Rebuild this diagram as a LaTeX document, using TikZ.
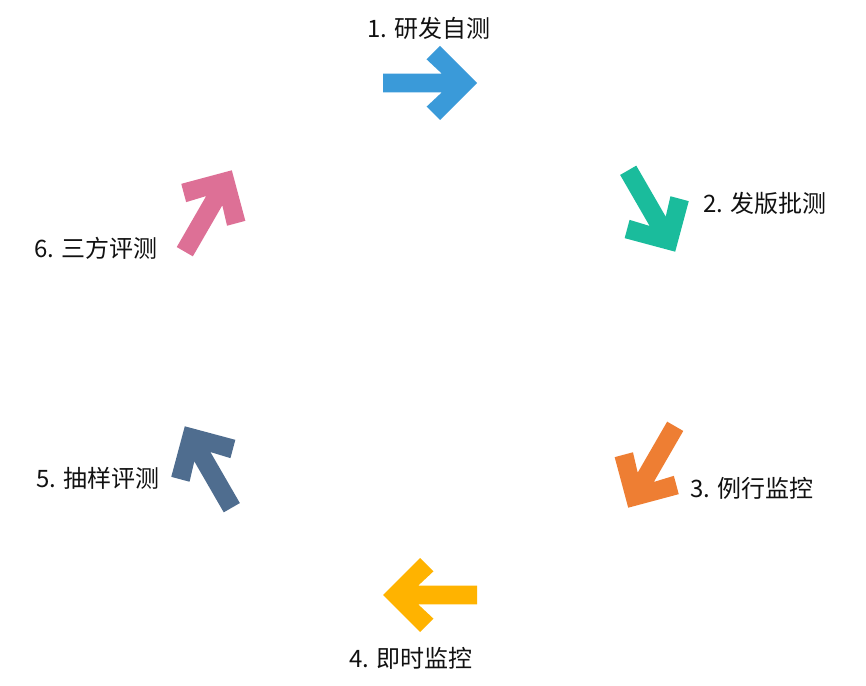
\documentclass[tikz,border=0pt]{standalone}
\usepackage{fontspec}
\setmainfont{Noto Sans CJK SC}
\definecolor{cblue}{HTML}{3A9AD9}
\definecolor{cteal}{HTML}{1ABC9C}
\definecolor{corange}{HTML}{EE7E33}
\definecolor{cyellow}{HTML}{FFB300}
\definecolor{cslate}{HTML}{4F6D8F}
\definecolor{cpink}{HTML}{DD7096}
\definecolor{ctext}{HTML}{111111}
\begin{document}
\begin{tikzpicture}[x=1pt,y=1pt,
  lbl/.style={inner sep=0pt, font=\fontsize{24}{28}\selectfont, text=ctext},
  chevron/.style={fill=#1}]
\useasboundingbox (0,0) rectangle (866,685);
\coordinate (C) at (430,346);
\foreach \phi/\col in {90/cblue, 30/cteal, -30/corange, -90/cyellow, -150/cslate, 150/cpink}{
  \fill[chevron=\col, shift={(C)}, rotate=\phi, shift={(256,0)}, rotate=-90]
    (47,0) -- (10,37) -- (-3.4,23.6) -- (11.9,9.3) -- (-47,9.3)
    -- (-47,-9.3) -- (11.9,-9.3) -- (-3.4,-23.6) -- (10,-37) -- cycle;
}
\node[lbl] (l1) at (429,657) {1.\hspace{0.3em}研发自测};
\node[lbl, anchor=west] (l2) at (703,482) {2.\hspace{0.3em}发版批测};
\node[lbl, anchor=west] (l3) at (690,197) {3.\hspace{0.3em}例行监控};
\node[lbl] (l4) at (411,27) {4.\hspace{0.3em}即时监控};
\node[lbl, anchor=east] (l5) at (160,207) {5.\hspace{0.3em}抽样评测};
\node[lbl, anchor=east] (l6) at (158,437) {6.\hspace{0.3em}三方评测};
\end{tikzpicture}
\end{document}
